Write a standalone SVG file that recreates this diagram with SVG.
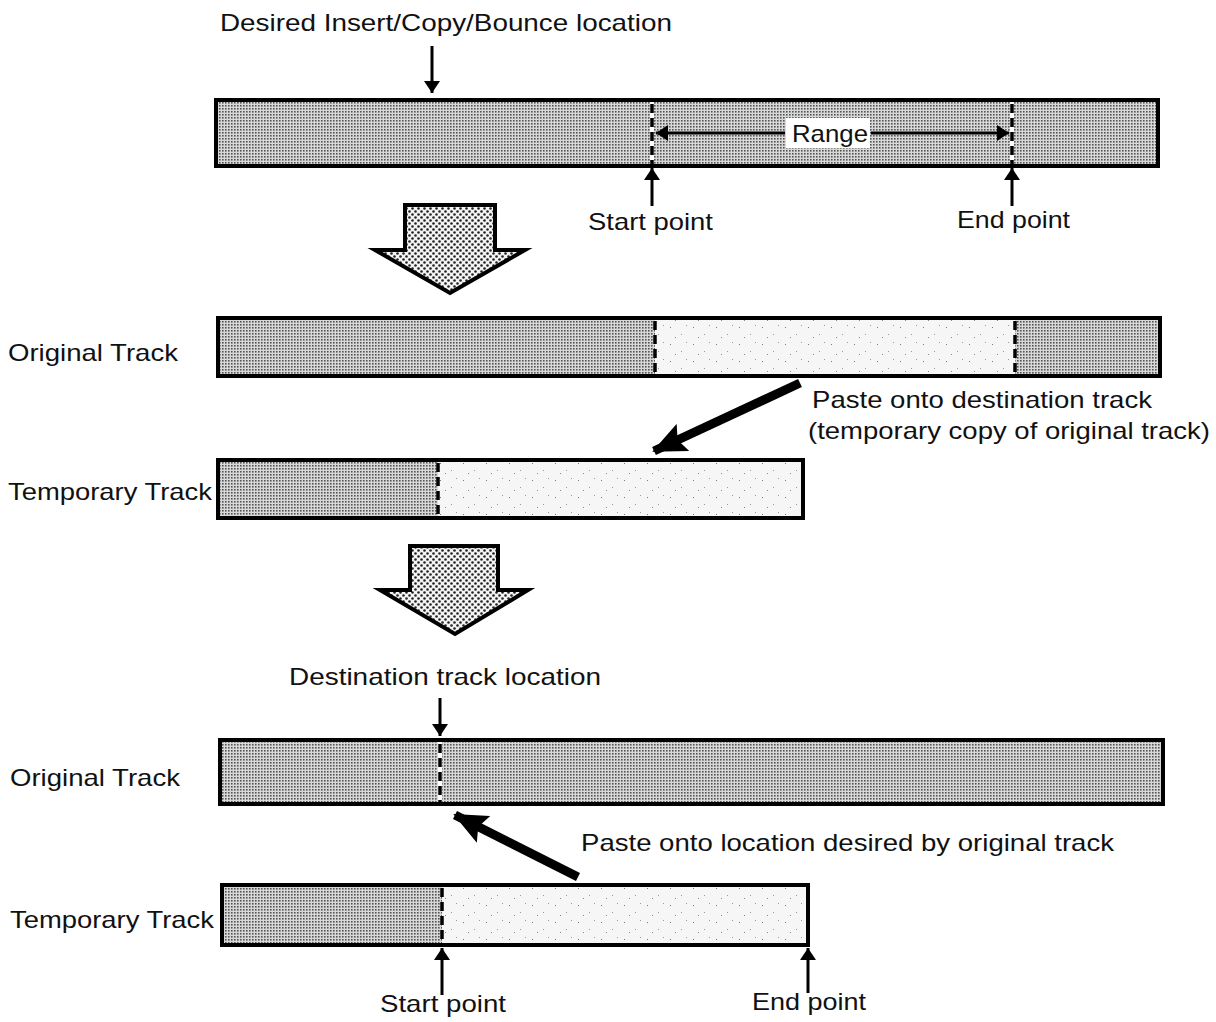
<svg xmlns="http://www.w3.org/2000/svg" width="1216" height="1022" viewBox="0 0 1216 1022">
<defs>
<pattern id="grid" width="3" height="3" patternUnits="userSpaceOnUse"><rect width="3" height="3" fill="#d8d8d8"/><rect width="1.6" height="1.6" fill="#555"/></pattern>
<pattern id="dots" width="6" height="6" patternUnits="userSpaceOnUse"><rect width="6" height="6" fill="#f4f4f4"/><circle cx="1.5" cy="1.5" r="1.3" fill="#222"/><circle cx="4.5" cy="4.5" r="1.3" fill="#222"/></pattern>
<pattern id="light" width="23" height="17" patternUnits="userSpaceOnUse"><rect width="23" height="17" fill="#f6f6f6"/><rect x="3" y="4" width="1" height="1" fill="#777"/><rect x="14" y="11" width="1" height="1" fill="#999"/><rect x="19" y="2" width="1" height="1" fill="#999"/><rect x="8" y="14" width="1" height="1" fill="#888"/></pattern>
<marker id="ah" markerWidth="12" markerHeight="16" refX="12" refY="8" orient="auto" markerUnits="userSpaceOnUse"><path d="M0,0 L12,8 L0,16 z" fill="#000"/></marker>
<marker id="big" markerWidth="34" markerHeight="30" refX="32" refY="15" orient="auto" markerUnits="userSpaceOnUse"><path d="M0,0 L34,15 L0,30 L6,15 z" fill="#000"/></marker>
</defs>
<style>
text{font-family:"Liberation Sans",Arial,sans-serif;font-size:24px;fill:#111}
.track{stroke:#000;stroke-width:4}
.dark{fill:url(#grid)}
.lite{fill:url(#light)}
.sep{stroke:#fff;stroke-width:4}
.dash{stroke:#000;stroke-width:3.5;stroke-dasharray:9 5}
.pt{stroke:#000;stroke-width:3;fill:none}
.thick{stroke:#000;stroke-width:9;fill:none}
.bigarrow{fill:url(#dots);stroke:#000;stroke-width:4;stroke-linejoin:miter}
</style>

<g id="track1">
<rect class="track dark" x="216" y="100" width="942" height="66"/>
<line class="sep" x1="652" y1="102" x2="652" y2="164"/><line class="dash" x1="652" y1="104" x2="652" y2="164"/>
<line class="sep" x1="1012" y1="102" x2="1012" y2="164"/><line class="dash" x1="1012" y1="104" x2="1012" y2="164"/>
<rect x="786" y="118" width="84" height="30" fill="#fff"/>
<text x="792" y="142" textLength="76" lengthAdjust="spacingAndGlyphs">Range</text>
</g>
<g id="label-desired"><text x="220" y="31" textLength="452" lengthAdjust="spacingAndGlyphs">Desired Insert/Copy/Bounce location</text></g>
<g id="label-start1"><text x="588" y="230" textLength="125" lengthAdjust="spacingAndGlyphs">Start point</text></g>
<g id="label-end1"><text x="957" y="228" textLength="113" lengthAdjust="spacingAndGlyphs">End point</text></g>

<g id="bigarrow1"><path class="bigarrow" d="M405,205 L495,205 L495,250 L525,250 L450,293 L375,250 L405,250 z"/></g>

<g id="track2">
<text x="8" y="361" textLength="170" lengthAdjust="spacingAndGlyphs">Original Track</text>
<rect class="track dark" x="218" y="318" width="942" height="58"/>
<rect class="lite" x="655" y="320" width="360" height="54"/>
<line class="dash" x1="655" y1="321" x2="655" y2="374"/>
<line class="dash" x1="1015" y1="321" x2="1015" y2="374"/>
</g>
<g id="label-paste1">
<text x="812" y="408" textLength="340" lengthAdjust="spacingAndGlyphs">Paste onto destination track</text>
<text x="808" y="439" textLength="402" lengthAdjust="spacingAndGlyphs">(temporary copy of original track)</text>
</g>

<g id="track3">
<text x="8" y="500" textLength="204" lengthAdjust="spacingAndGlyphs">Temporary Track</text>
<rect class="track dark" x="218" y="460" width="585" height="58"/>
<rect class="lite" x="438" y="462" width="363" height="54"/>
<line class="dash" x1="438" y1="463" x2="438" y2="516"/>
</g>

<g id="bigarrow2"><path class="bigarrow" d="M410,546 L498,546 L498,590 L528,590 L455,634 L380,590 L410,590 z"/></g>

<g id="label-dest"><text x="289" y="685" textLength="312" lengthAdjust="spacingAndGlyphs">Destination track location</text></g>

<g id="track4">
<text x="10" y="786" textLength="170" lengthAdjust="spacingAndGlyphs">Original Track</text>
<rect class="track dark" x="220" y="740" width="943" height="64"/>
<line class="sep" x1="440" y1="742" x2="440" y2="802"/><line class="dash" x1="440" y1="744" x2="440" y2="802"/>
</g>
<g id="label-paste2"><text x="581" y="851" textLength="533" lengthAdjust="spacingAndGlyphs">Paste onto location desired by original track</text></g>

<g id="track5">
<text x="10" y="928" textLength="204" lengthAdjust="spacingAndGlyphs">Temporary Track</text>
<rect class="track dark" x="222" y="885" width="586" height="60"/>
<rect class="lite" x="442" y="887" width="364" height="56"/>
<line class="dash" x1="442" y1="888" x2="442" y2="943"/>
</g>
<g id="label-start2"><text x="380" y="1012" textLength="126" lengthAdjust="spacingAndGlyphs">Start point</text></g>
<g id="label-end2"><text x="752" y="1010" textLength="114" lengthAdjust="spacingAndGlyphs">End point</text></g>

<g id="connectors">
<line class="pt" x1="432" y1="46" x2="432" y2="93" marker-end="url(#ah)"/>
<line class="pt" x1="652" y1="206" x2="652" y2="168" marker-end="url(#ah)"/>
<line class="pt" x1="1012" y1="206" x2="1012" y2="168" marker-end="url(#ah)"/>
<line class="pt" x1="785" y1="133" x2="656" y2="133" marker-end="url(#ah)"/>
<line class="pt" x1="871" y1="133" x2="1009" y2="133" marker-end="url(#ah)"/>
<line class="thick" x1="800" y1="383" x2="654" y2="451" marker-end="url(#big)"/>
<line class="pt" x1="440" y1="698" x2="440" y2="736" marker-end="url(#ah)"/>
<line class="thick" x1="578" y1="877" x2="455" y2="815" marker-end="url(#big)"/>
<line class="pt" x1="442" y1="995" x2="442" y2="948" marker-end="url(#ah)"/>
<line class="pt" x1="808" y1="993" x2="808" y2="948" marker-end="url(#ah)"/>
</g>
</svg>
